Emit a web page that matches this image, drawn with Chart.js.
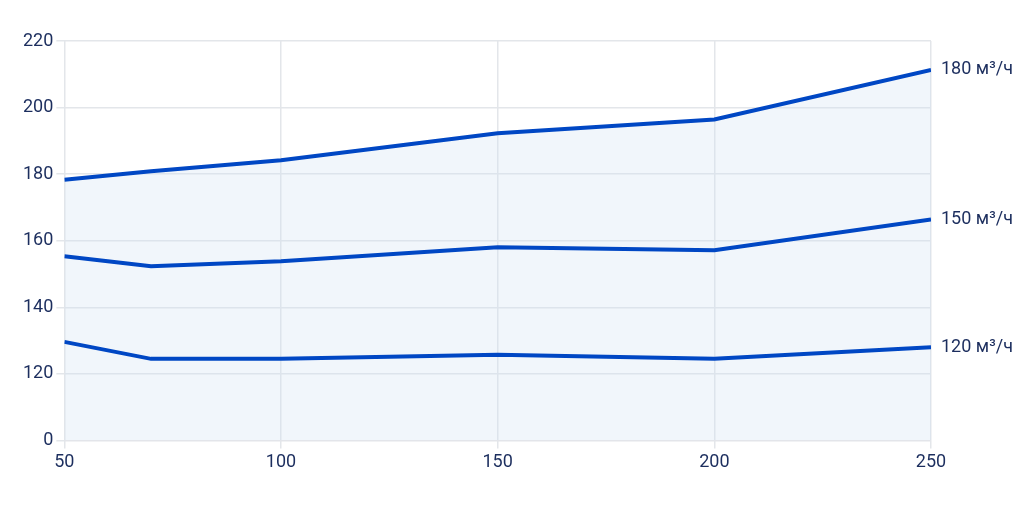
<!DOCTYPE html>
<html>
<head>
<meta charset="utf-8">
<script src="https://cdn.jsdelivr.net/npm/chart.js@4"></script>
<style>
  html, body { margin: 0; padding: 0; background: #fff; }
  #wrap { width: 1024px; height: 512px; }
</style>
</head>
<body>
<div id="wrap"><canvas id="chart"></canvas></div>
<script>
const xValues = [50, 70, 100, 150, 200, 250];
const flow180 = [178.3, 180.9, 184.2, 192.3, 196.4, 211.3];
const flow150 = [155.3, 152.3, 153.8, 158.0, 157.1, 166.4];
const flow120 = [129.6, 124.5, 124.5, 125.7, 124.5, 128.0];
const seriesLabels = ["180 м³/ч", "150 м³/ч", "120 м³/ч"];

const lineColor = "#0047c4";
const textColor = "#1c2e5e";

function pts(arr) {
  return arr.map((v, i) => ({ x: xValues[i], y: v }));
}

const endLabels = {
  id: "endLabels",
  afterDatasetsDraw(chart) {
    const c = chart.ctx;
    c.save();
    c.font = "18px Roboto";
    c.fillStyle = textColor;
    c.textBaseline = "middle";
    chart.data.datasets.forEach((ds, i) => {
      const meta = chart.getDatasetMeta(i);
      const last = meta.data[meta.data.length - 1];
      c.fillText(ds.label, last.x + 10, last.y);
    });
    c.restore();
  },
};

new Chart(document.getElementById("chart"), {
  type: "line",
  data: {
    datasets: [
      {
        label: seriesLabels[0],
        data: pts(flow180),
        borderColor: lineColor,
        backgroundColor: "rgba(210, 225, 242, 0.3)",
        fill: "start",
        borderWidth: 4,
        pointRadius: 0,
        tension: 0,
        order: 2,
      },
      {
        label: seriesLabels[1],
        data: pts(flow150),
        borderColor: lineColor,
        borderWidth: 4,
        pointRadius: 0,
        fill: false,
        order: 1,
      },
      {
        label: seriesLabels[2],
        data: pts(flow120),
        borderColor: lineColor,
        borderWidth: 4,
        pointRadius: 0,
        fill: false,
        order: 0,
      },
    ],
  },
  options: {
    responsive: true,
    maintainAspectRatio: false,
    animation: false,
    layout: { padding: { top: 41, right: 93, bottom: 36, left: 20 } },
    plugins: { legend: { display: false }, tooltip: { enabled: false } },
    scales: {
      x: {
        type: "linear",
        min: 50,
        max: 250,
        ticks: { stepSize: 50, color: textColor, font: { size: 18, family: "Roboto" } },
        grid: { color: "#e3e6ea", lineWidth: 1.5 },
        border: { color: "#e3e6ea" },
      },
      y: {
        min: 100,
        max: 220,
        ticks: {
          stepSize: 20,
          color: textColor,
          font: { size: 18, family: "Roboto" },
          callback: (v) => (v === 100 ? "0" : v),
        },
        grid: { color: "#e3e6ea", lineWidth: 1.5 },
        border: { display: false },
      },
    },
  },
  plugins: [endLabels],
});
</script>
</body>
</html>
